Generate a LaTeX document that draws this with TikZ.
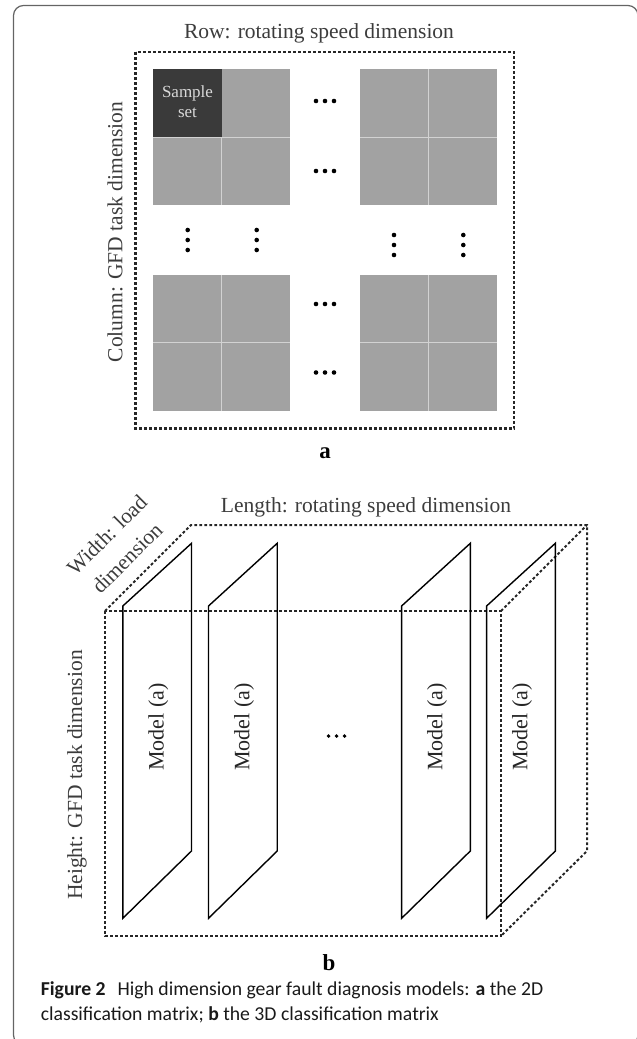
\documentclass[tikz,border=0pt]{standalone}
\usepackage{fontspec}
\setmainfont{Liberation Serif}
\newfontfamily\capfont{Carlito}
\definecolor{cellgray}{RGB}{162,162,162}
\definecolor{darkcell}{RGB}{58,58,58}
\definecolor{sepline}{RGB}{210,210,210}
\definecolor{labelgray}{RGB}{60,60,60}
\definecolor{framegray}{RGB}{100,100,100}
\begin{document}
\begin{tikzpicture}[x=1pt,y=-1pt,
  lbl/.style={font=\fontsize{21.5}{24}\selectfont, text=labelgray, inner sep=0pt},
  mdl/.style={font=\fontsize{22}{24}\selectfont, text=black!85, inner sep=0pt, rotate=90},
  panel/.style={font=\fontsize{23}{24}\selectfont\bfseries, inner sep=0pt},
  boxa/.style={line width=2.5pt, dash pattern=on 2.5pt off 2.5pt, black!85},
  boxb/.style={line width=2pt, dash pattern=on 2.8pt off 2.2pt, black!85},
  plane/.style={line width=1.4pt, black, line join=miter},
  sep/.style={draw=sepline, line width=0.8pt},
  frame/.style={draw=framegray, line width=1.2pt, rounded corners=10pt},
  capline/.style={font=\capfont\fontsize{19.7}{24}\selectfont, text=black!90, inner sep=0pt, anchor=base west}
]
\useasboundingbox (0,0) rectangle (637,1039);
\clip (0,0) rectangle (637,1039);
\draw[frame] (13.5,5.5) rectangle (638,1045);

% ---------- panel a ----------
\node[lbl] (rowlabel) at (319,33) {Row: rotating speed dimension};
\draw[boxa] (135.5,52) rectangle (514,428.5);
\foreach \bx/\by in {153.3/69.3, 360/69.3, 153.3/275, 360/275}{
  \fill[cellgray] (\bx,\by) rectangle ++(136.7,135.7);
  \draw[sep] (\bx+68.35,\by) -- ++(0,135.7);
  \draw[sep] (\bx,\by+67.85) -- ++(136.7,0);
}
\fill[darkcell] (153.3,69.3) rectangle (221.65,137.15);
\node[font=\fontsize{17}{20}\selectfont, text=black!15, align=center, inner sep=0pt] (sample) at (187.5,102) {Sample\\set};
\foreach \y in {101,171,304,372.5}
  \foreach \dx in {-9,0,9}
    \fill (325+\dx,\y) circle (2.3);
\foreach \x/\y in {187.7/240, 256.7/240, 394/245, 463.3/245}
  \foreach \dy in {-10,0,10}
    \fill (\x,\y+\dy) circle (2.3);
\node[lbl, rotate=90] (collabel) at (115,232) {Column: GFD task dimension};
\node[panel] (pa) at (325,453.5) {a};

% ---------- panel b ----------
\node[lbl] (lenlabel) at (366,507) {Length: rotating speed dimension};
\node[lbl, rotate=45] (widlabel1) at (107,535) {Width: load};
\node[lbl, rotate=45] (widlabel2) at (127,558) {dimension};
\node[lbl, rotate=90] (heilabel) at (77,775) {Height: GFD task dimension};
\draw[boxb] (105,611) -- (191,525) -- (587,525) -- (587,851) -- (501,936);
\draw[boxb] (501,611) -- (587,525);
\draw[boxb] (105,611) rectangle (501,936);
\foreach \x/\n in {122.8/1, 208.5/2, 401.6/3, 486.6/4}{
  \draw[plane] (\x,606) -- (\x+68.7,543.3) -- (\x+68.7,851) -- (\x,918.3) -- cycle;
  \node[mdl] (model\n) at (\x+35.5,727) {Model (a)};
}
\foreach \dx in {-8,0,8}
  \fill (336.6+\dx,736) circle (1.9);
\node[panel] (pb) at (329,963) {b};

% ---------- caption ----------
\node[capline] (cap1) at (40.6,995) {\textbf{Figure 2}\hspace{0.6em}High dimension gear fault diagnosis models: \textbf{a} the 2D};
\node[capline] (cap2) at (40.6,1020) {classification matrix; \textbf{b} the 3D classification matrix};
\end{tikzpicture}
\end{document}
